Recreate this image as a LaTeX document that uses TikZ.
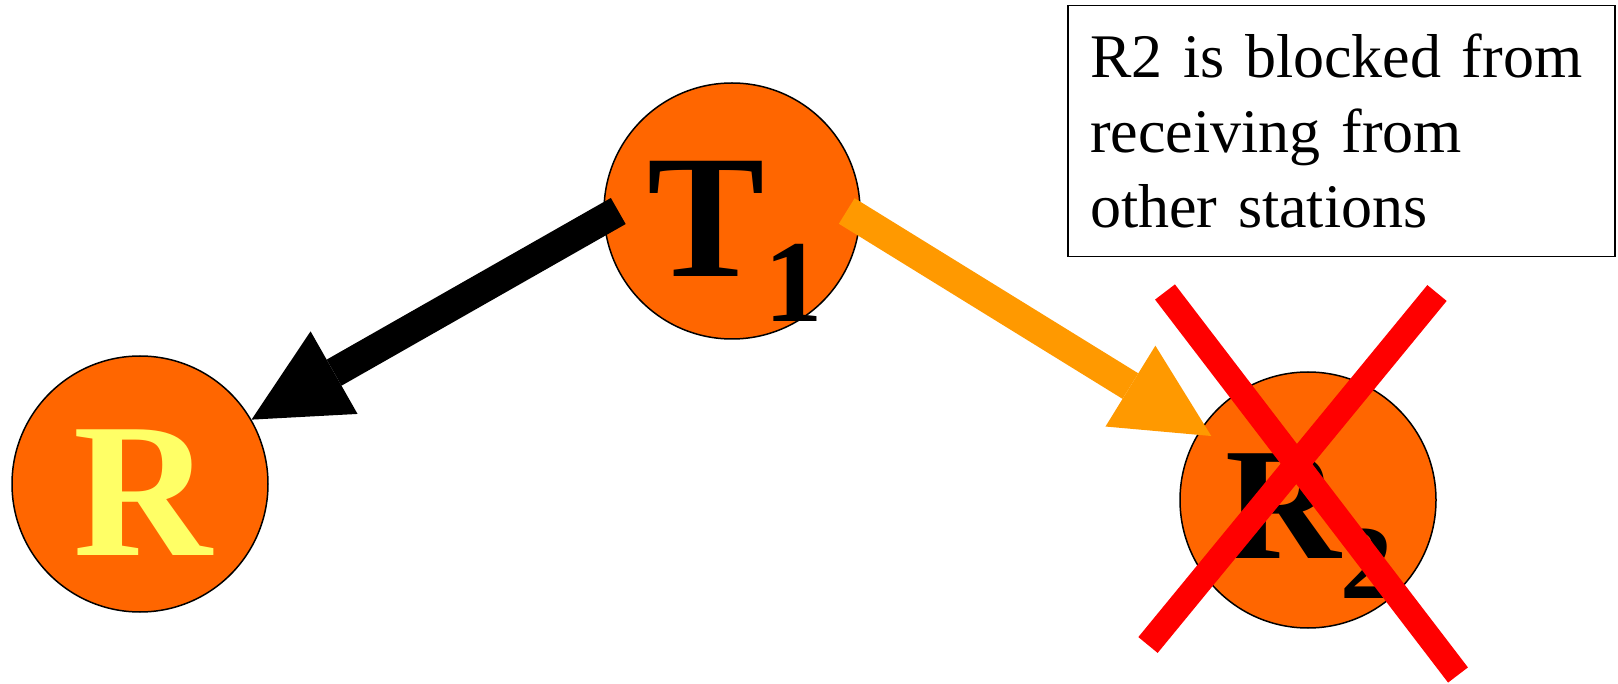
\documentclass[tikz,border=0pt]{standalone}
\usepackage{fontspec}
\setmainfont{Liberation Serif}
\usetikzlibrary{arrows.meta}
\definecolor{stationorange}{HTML}{FF6600}
\definecolor{sigorange}{HTML}{FF9900}
\definecolor{ryellow}{HTML}{FFFF66}
\begin{document}
\begin{tikzpicture}[x=1pt,y=-1pt,
  station/.style={circle,draw,line width=1.5pt,fill=stationorange,minimum size=256pt,inner sep=0pt},
  big/.style={inner sep=0pt,font=\bfseries\fontsize{#1}{#1}\selectfont},
  sig/.style={line width=30pt,-{Triangle[length=95pt,width=95pt,line width=0pt]}},
  cross/.style={red,line width=25pt}]
\useasboundingbox (0,0) rectangle (1618,684);
\node[station] (T1) at (732,211) {};
\node[station] (R) at (140,484) {};
\node[station] (R2) at (1308,500) {};
\node[big=176,anchor=base west] (t1name) at ([shift={(-85pt,-66pt)}]T1.center)
  {T\raisebox{-45pt}{\fontsize{117}{117}\selectfont 1}};
\node[big=192,anchor=base,text=ryellow] (rname) at ([shift={(3pt,-71pt)}]R.center) {R};
\node[big=160,anchor=base west] (r2name) at ([shift={(-83pt,-58pt)}]R2.center)
  {R\raisebox{-40pt}{\fontsize{105}{105}\selectfont 2}};
\node[draw,line width=1.5pt,minimum width=547pt,minimum height=251pt,text width=503pt,
  align=left,inner xsep=22pt,font=\fontsize{62}{75}\selectfont] (note) at (1341.5,131)
  {R2 is blocked from\\receiving from\\other stations};
\draw[sig] ([xshift=15pt]T1.west) -- (R.30);
\draw[sig,sigorange] ([xshift=-14pt]T1.east) -- ([shift={(10pt,-8pt)}]R2.146);
\draw[cross] (1165,292) -- (1458,675);
\draw[cross] (1437,293) -- (1148,645);
\end{tikzpicture}
\end{document}
